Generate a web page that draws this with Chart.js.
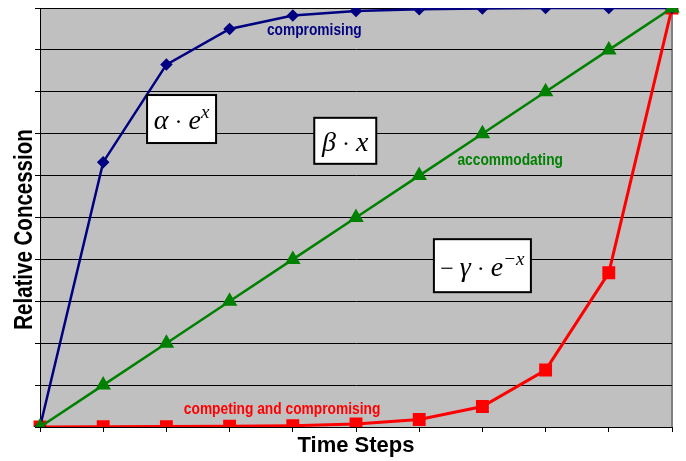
<!DOCTYPE html>
<html lang="en">
<head>
    <meta charset="UTF-8">
    <title>Relative Concession</title>
    <script src="https://cdn.jsdelivr.net/npm/chart.js"></script>
    <style>
        body { margin: 0; background: #fff; }
    </style>
</head>
<body>
    <canvas id="concessionChart" width="686" height="461"></canvas>

    <script>
        // data
        const timeSteps = [0, 1, 2, 3, 4, 5, 6, 7, 8, 9, 10]
        const compromising = [0, 0.632, 0.865, 0.95, 0.982, 0.993, 0.997, 0.999, 1.0, 1.0, 1.0]
        const accommodating = [0, 0.1, 0.2, 0.3, 0.4, 0.5, 0.6, 0.7, 0.8, 0.9, 1.0]
        const competing = [0, 0.0005, 0.001, 0.002, 0.003, 0.007, 0.018, 0.049, 0.136, 0.368, 1.0]

        const yTitle = 'Relative Concession'

        // curve labels (x in time steps, y in concession)
        const curveLabels = [
            { text: 'compromising', x: 4.34, y: 0.945, color: '#000080' },
            { text: 'accommodating', x: 7.44, y: 0.637, color: '#008000' },
            { text: 'competing and compromising', x: 3.83, y: 0.041, color: '#ff0000' }
        ]

        // formula boxes
        const formulas = [
            { x: 2.24, y: 0.735, w: 69, h: 48, parts: [['α', 'i'], [' · ', 'n'], ['e', 'i'], ['x', 'sup']] },
            { x: 4.83, y: 0.683, w: 62, h: 46, parts: [['β', 'i'], [' · ', 'n'], ['x', 'i']] },
            { x: 7.0, y: 0.385, w: 97, h: 53, parts: [['− ', 'n'], ['γ', 'i'], [' · ', 'n'], ['e', 'i'], ['−x', 'sup']] }
        ]

        const plotBackground = {
            id: 'plotBackground',
            beforeDraw(chart) {
                const { ctx, chartArea: a } = chart
                ctx.save()
                ctx.fillStyle = '#c0c0c0'
                ctx.fillRect(a.left, a.top, a.right - a.left, a.bottom - a.top)
                ctx.strokeStyle = '#808080'
                ctx.lineWidth = 2
                ctx.beginPath()
                ctx.moveTo(a.right, a.top)
                ctx.lineTo(a.right, a.bottom)
                ctx.stroke()
                ctx.restore()
            }
        }

        const annotations = {
            id: 'annotations',
            afterDatasetsDraw(chart) {
                const { ctx, scales, chartArea: a } = chart
                ctx.save()
                ctx.textAlign = 'center'
                ctx.textBaseline = 'middle'
                ctx.font = 'bold 16px "Liberation Sans", Arial, sans-serif'
                curveLabels.forEach(l => {
                    ctx.save()
                    ctx.translate(scales.x.getPixelForValue(l.x), scales.y.getPixelForValue(l.y))
                    ctx.scale(0.86, 1)
                    ctx.fillStyle = l.color
                    ctx.fillText(l.text, 0, 0)
                    ctx.restore()
                })

                // y axis title, narrow and tall like the original
                ctx.save()
                ctx.translate(24, (a.top + a.bottom) / 2 + 12)
                ctx.rotate(-Math.PI / 2)
                ctx.scale(0.82, 1)
                ctx.fillStyle = '#000'
                ctx.font = 'bold 25px "Liberation Sans", Arial, sans-serif'
                ctx.fillText(yTitle, 0, 1)
                ctx.restore()

                const fonts = {
                    i: 'italic 28px "Liberation Serif", serif',
                    n: '24px "Liberation Serif", serif',
                    sup: 'italic 19px "Liberation Serif", serif'
                }
                formulas.forEach(f => {
                    const cx = scales.x.getPixelForValue(f.x)
                    const cy = scales.y.getPixelForValue(f.y)
                    ctx.fillStyle = '#fff'
                    ctx.fillRect(cx - f.w / 2, cy - f.h / 2, f.w, f.h)
                    ctx.strokeStyle = '#000'
                    ctx.lineWidth = 2
                    ctx.strokeRect(cx - f.w / 2, cy - f.h / 2, f.w, f.h)

                    ctx.textAlign = 'left'
                    ctx.textBaseline = 'alphabetic'
                    let total = 0
                    f.parts.forEach(p => { ctx.font = fonts[p[1]]; total += ctx.measureText(p[0]).width })
                    let x = cx - total / 2
                    const base = cy + 10
                    ctx.fillStyle = '#000'
                    f.parts.forEach(p => {
                        ctx.font = fonts[p[1]]
                        ctx.fillText(p[0], x, p[1] === 'sup' ? base - 11 : base)
                        x += ctx.measureText(p[0]).width
                    })
                })
                ctx.restore()
            }
        }

        const ctx = document.getElementById('concessionChart').getContext('2d')
        const chart = new Chart(ctx, {
            type: 'line',
            data: {
                labels: timeSteps,
                datasets: [
                    {
                        label: 'accommodating',
                        data: accommodating,
                        borderColor: '#008000',
                        backgroundColor: '#008000',
                        borderWidth: 2.5,
                        pointStyle: 'triangle',
                        pointRadius: 6.5,
                        order: 1
                    },
                    {
                        label: 'compromising',
                        data: compromising,
                        borderColor: '#000080',
                        backgroundColor: '#000080',
                        borderWidth: 2.5,
                        pointStyle: 'rectRot',
                        pointRadius: 4.5,
                        order: 2
                    },
                    {
                        label: 'competing and compromising',
                        data: competing,
                        borderColor: '#ff0000',
                        backgroundColor: '#ff0000',
                        borderWidth: 3,
                        pointStyle: 'rect',
                        pointRadius: 7,
                        order: 3
                    }
                ]
            },
            options: {
                responsive: false,
                animation: false,
                layout: { autoPadding: false, padding: { top: 8, right: 14, left: 0, bottom: 0 } },
                plugins: { legend: { display: false }, tooltip: { enabled: false } },
                elements: { line: { tension: 0 }, point: { borderWidth: 1 } },
                scales: {
                    x: {
                        offset: false,
                        grid: { drawOnChartArea: false, color: '#000', tickLength: 5 },
                        border: { color: '#000', width: 1 },
                        ticks: { display: false },
                        title: {
                            display: true,
                            text: 'Time Steps',
                            color: '#000',
                            font: { family: '"Liberation Sans", Arial, sans-serif', size: 22, weight: 'bold', lineHeight: 1 },
                            padding: { top: 0, bottom: 4 }
                        },
                        afterFit(scale) { scale.height = 34 }
                    },
                    y: {
                        min: 0,
                        max: 1,
                        ticks: { display: false, stepSize: 0.1 },
                        grid: { color: '#000', tickLength: 5 },
                        border: { color: '#000', width: 1 },
                        afterFit(scale) { scale.width = 40 }
                    }
                }
            },
            plugins: [plotBackground, annotations]
        })
    </script>
</body>
</html>
